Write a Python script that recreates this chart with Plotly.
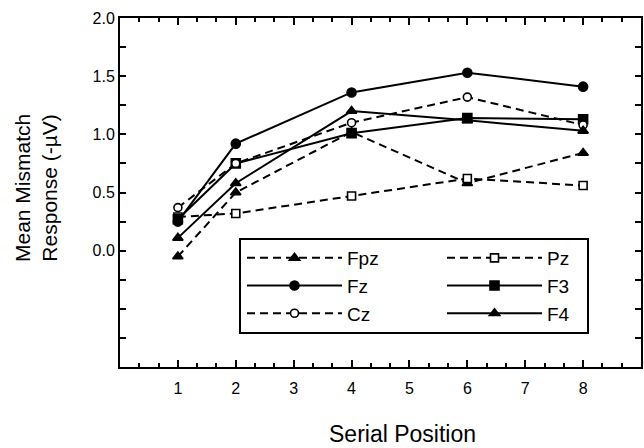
import plotly.graph_objects as go

positions = [1, 2, 4, 6, 8]
fpz = [-0.05, 0.50, 1.02, 0.58, 0.84]
pz = [0.29, 0.32, 0.47, 0.62, 0.56]
fz = [0.25, 0.92, 1.36, 1.53, 1.41]
f3 = [0.27, 0.75, 1.01, 1.14, 1.13]
cz = [0.37, 0.75, 1.10, 1.32, 1.08]
f4 = [0.11, 0.58, 1.20, 1.12, 1.03]

x_tick_vals = [1, 2, 3, 4, 5, 6, 7, 8]
y_tick_vals = [-1.0, -0.75, -0.5, -0.25, 0.0, 0.25, 0.5, 0.75, 1.0, 1.25, 1.5, 1.75, 2.0]
y_tick_text = ["", "", "", "", "0.0", "", "0.5", "", "1.0", "", "1.5", "", "2.0"]

FONT = "Liberation Sans, Arial, Helvetica, sans-serif"

# name, values, dashed?, symbol, filled?
series = [
    ("Fpz", fpz, True, "triangle-up", True),
    ("Pz", pz, True, "square", False),
    ("Fz", fz, False, "circle", True),
    ("F3", f3, False, "square", True),
    ("Cz", cz, True, "circle", False),
    ("F4", f4, False, "triangle-up", True),
]

W, H = 644, 448
L, R, T, B = 120, 3, 18, 81
PW, PH = W - L - R, H - T - B


def px_x(px):
    return (px - L) / PW


def px_y(py):
    return (H - B - py) / PH


fig = go.Figure()
for name, vals, dashed, sym, filled in series:
    fig.add_trace(go.Scatter(
        x=positions, y=vals, name=name, mode="lines+markers",
        line=dict(color="black", width=2, dash="8px,5px" if dashed else "solid"),
        marker=dict(symbol=sym, size=9 if filled else 8, color="black" if filled else "white",
                    line=dict(color="black", width=1.6)),
    ))

fig.update_layout(
    width=W, height=H,
    margin=dict(l=L, r=R, t=T, b=B, autoexpand=False),
    paper_bgcolor="white", plot_bgcolor="white",
    font=dict(family=FONT, color="black"),
    legend=dict(
        orientation="h", x=px_x(242), y=px_y(239), xanchor="left", yanchor="top",
        entrywidth=90, entrywidthmode="pixels", itemwidth=95,
        borderwidth=0, bgcolor="rgba(0,0,0,0)",
        font=dict(size=19, family=FONT), traceorder="normal",
    ),
    shapes=[
        dict(type="rect", xref="paper", yref="paper", x0=px_x(240), x1=px_x(588), y0=px_y(333), y1=px_y(239),
             line=dict(color="black", width=2), fillcolor="white", layer="below"),
    ],
    xaxis=dict(
        range=[0, 9], tickvals=x_tick_vals, ticks="inside", ticklen=7, tickwidth=1.5,
        tickcolor="black", showline=True, linecolor="black", linewidth=2, mirror="allticks",
        showgrid=False, zeroline=False, tickfont=dict(size=16), ticklabelstandoff=6,
        minor=dict(dtick=1/3, tick0=0, ticks="inside", ticklen=4, tickcolor="black", tickwidth=1.5, showgrid=False),
    ),
    yaxis=dict(
        range=[-1, 2], tickvals=y_tick_vals, ticktext=y_tick_text, ticks="inside", ticklen=6, tickwidth=1.5,
        tickcolor="black", showline=True, linecolor="black", linewidth=2, mirror="allticks",
        showgrid=False, zeroline=False, tickfont=dict(size=16),
    ),
    annotations=[
        dict(text="Serial Position", xref="paper", yref="paper", x=px_x(402), y=px_y(434),
             xanchor="center", yanchor="middle", showarrow=False, height=24, borderpad=0,
             font=dict(size=23, family=FONT)),
        dict(text="Mean Mismatch<br>Response (-µV)", xref="paper", yref="paper", x=px_x(36),
             y=px_y(188), xanchor="center", yanchor="middle", textangle=-90, showarrow=False,
             font=dict(size=21, family=FONT)),
    ],
)

fig.write_html("out.html", config={"displayModeBar": False},
               post_script="document.body.style.margin='0px';document.body.style.overflow='hidden';")
